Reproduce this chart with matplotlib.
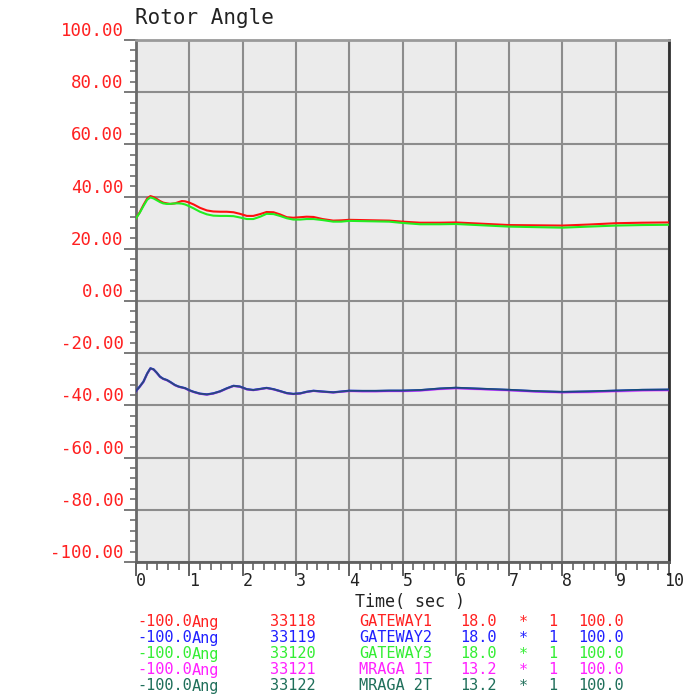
import matplotlib
matplotlib.use("Agg")
import matplotlib.pyplot as plt
from matplotlib.ticker import MultipleLocator, FuncFormatter
import matplotlib.transforms as mtransforms

# ---- data -------------------------------------------------------------
time_s = [0, 0.07, 0.14, 0.21, 0.27, 0.33, 0.39, 0.45, 0.51, 0.58, 0.64,
          0.73, 0.8, 0.86, 0.92, 1.0, 1.08, 1.2, 1.33, 1.45, 1.58, 1.7,
          1.83, 1.95, 2.08, 2.2, 2.33, 2.45, 2.58, 2.7, 2.83, 2.95, 3.08,
          3.2, 3.33, 3.5, 3.7, 3.85, 4.0, 4.25, 4.5, 4.75, 5.0, 5.33, 5.7,
          6.0, 6.5, 7.0, 7.5, 8.0, 8.5, 9.0, 9.5, 10.0]

gateway1 = [31.7, 34.0, 36.8, 39.3, 40.2, 39.8, 39.1, 38.3, 37.7, 37.4, 37.2,
            37.4, 37.9, 38.3, 38.2, 37.7, 37.0, 35.7, 34.7, 34.3, 34.2, 34.2,
            34.0, 33.4, 32.6, 32.6, 33.3, 34.1, 34.0, 33.2, 32.1, 31.9, 32.1,
            32.3, 32.2, 31.4, 30.8, 30.9, 31.1, 31.0, 30.9, 30.8, 30.4, 30.0, 30.0,
            30.1, 29.6, 29.1, 29.0, 28.9, 29.3, 29.8, 30.0, 30.1]

gateway3 = [31.7, 33.8, 36.4, 38.8, 39.7, 39.3, 38.6, 37.9, 37.4, 37.2, 37.2,
            37.4, 37.4, 37.3, 37.0, 36.3, 35.5, 34.2, 33.2, 32.7, 32.6, 32.6,
            32.5, 32.0, 31.4, 31.4, 32.3, 33.4, 33.3, 32.6, 31.7, 31.2, 31.2,
            31.4, 31.4, 31.0, 30.4, 30.4, 30.7, 30.6, 30.5, 30.4, 29.9, 29.4, 29.4,
            29.5, 29.0, 28.5, 28.3, 28.1, 28.5, 28.9, 29.1, 29.2]

gateway2 = [-34.5, -32.8, -30.9, -27.8, -25.8, -26.2, -27.5, -29.0, -29.8, -30.3, -31.0,
            -32.2, -32.8, -33.1, -33.4, -34.2, -34.8, -35.5, -35.8, -35.4, -34.6, -33.5,
            -32.5, -32.8, -33.8, -34.1, -33.7, -33.3, -33.8, -34.5, -35.3, -35.6, -35.4,
            -34.8, -34.4, -34.7, -35.0, -34.7, -34.4, -34.5, -34.5, -34.4, -34.4, -34.2, -33.6,
            -33.3, -33.7, -34.1, -34.6, -34.9, -34.7, -34.4, -34.1, -34.0]

mraga1t = [-34.6, -32.9, -31.0, -27.9, -25.9, -26.3, -27.6, -29.1, -29.9, -30.4, -31.1,
           -32.3, -32.9, -33.2, -33.5, -34.3, -34.9, -35.6, -35.9, -35.5, -34.7, -33.6,
           -32.6, -32.9, -33.9, -34.2, -33.8, -33.4, -33.9, -34.6, -35.4, -35.7, -35.5,
           -34.9, -34.5, -34.8, -35.1, -34.8, -34.6, -34.7, -34.7, -34.6, -34.6, -34.4, -33.8,
           -33.5, -33.9, -34.3, -34.8, -35.1, -35.0, -34.7, -34.4, -34.3]

mraga2t = [-34.5, -32.8, -30.9, -27.8, -25.8, -26.2, -27.5, -29.0, -29.8, -30.3, -31.0,
           -32.2, -32.8, -33.1, -33.4, -34.2, -34.8, -35.5, -35.8, -35.4, -34.6, -33.5,
           -32.5, -32.8, -33.8, -34.1, -33.7, -33.3, -33.8, -34.5, -35.3, -35.6, -35.4,
           -34.8, -34.4, -34.7, -35.0, -34.7, -34.4, -34.4, -34.4, -34.3, -34.3, -34.1, -33.5,
           -33.2, -33.6, -34.0, -34.5, -34.8, -34.6, -34.3, -34.0, -33.9]

bus_numbers = ["33118", "33119", "33120", "33121", "33122"]
bus_names = ["GATEWAY1", "GATEWAY2", "GATEWAY3", "MRAGA 1T", "MRAGA 2T"]
bus_kv = ["18.0", "18.0", "18.0", "13.2", "13.2"]
series_colors = ["#ff1010", "#1010ff", "#22ee22", "#ff10ff", "#0e6050"]
label_colors = ["#ff2020", "#2020ff", "#33ee33", "#ff20ff", "#1f6f5a"]

x_ticks = list(range(0, 11))
y_ticks = list(range(-100, 101, 20))

# ---- figure -----------------------------------------------------------
W, H = 686, 698
fig = plt.figure(figsize=(W / 100, H / 100), dpi=100)
mono = "DejaVu Sans Mono"

ax = fig.add_axes([136 / W, 136 / H, 533 / W, 522 / H])
ax.set_facecolor("#ebebeb")
ax.set_xlim(0, 10)
ax.set_ylim(-100, 100)

ax.xaxis.set_minor_locator(MultipleLocator(0.2))
ax.yaxis.set_minor_locator(MultipleLocator(4))
ax.set_xticks(x_ticks)
ax.set_yticks(y_ticks)

ax.grid(True, which="major", color="#8c8c8c", linewidth=1.5)
ax.set_axisbelow(True)

for side, col in [("top", "#9a9a9a"), ("left", "#6a6a6a"),
                  ("right", "#303030"), ("bottom", "#606060")]:
    ax.spines[side].set_color(col)
    ax.spines[side].set_linewidth(2)

ax.tick_params(axis="y", which="major", direction="out", length=9, width=1.3,
               color="#707070", pad=0, labelsize=12.5, labelcolor="#ff2020")
ax.tick_params(axis="y", which="minor", direction="out", length=4, width=1.2,
               color="#707070")
ax.tick_params(axis="x", which="major", direction="out", length=10, width=1.3,
               color="#555555", pad=-3, labelsize=12, labelcolor="#222222")
ax.tick_params(axis="x", which="minor", direction="out", length=6, width=1.1,
               color="#555555")

ax.yaxis.set_major_formatter(FuncFormatter(lambda v, p: f"{v:.2f}"))
for lab in ax.get_yticklabels():
    lab.set_fontfamily(mono)
    lab.set_verticalalignment("bottom")
shift = mtransforms.ScaledTranslation(5 / 100, 0, fig.dpi_scale_trans)
for lab in ax.get_xticklabels():
    lab.set_fontfamily(mono)
    lab.set_transform(lab.get_transform() + shift)

# axis caption under the time ticks
fig.text(410 / W, 1 - 602 / H, "Time( sec )", fontfamily=mono, fontsize=12,
         color="#222222", ha="center", va="center")

# ---- curves -----------------------------------------------------------
ax.plot(time_s, gateway1, color=series_colors[0], lw=1.5, zorder=3)
ax.plot(time_s, gateway3, color=series_colors[2], lw=1.5, zorder=4)
ax.plot(time_s, gateway2, color=series_colors[1], lw=1.6, zorder=3)
ax.plot(time_s, mraga1t, color=series_colors[3], lw=1.5, alpha=0.45, zorder=4)
ax.plot(time_s, mraga2t, color=series_colors[4], lw=1.3, alpha=0.75, zorder=5)

# ---- title ------------------------------------------------------------
fig.text(135 / W, 1 - 18 / H, "Rotor Angle", fontfamily=mono, fontsize=15,
         color="#222222", ha="left", va="center")

# ---- channel list -----------------------------------------------------
row_y = [622, 638, 654, 670, 686]
for i in range(5):
    y = 1 - row_y[i] / H
    kw = dict(fontfamily=mono, fontsize=11, color=label_colors[i], va="center")
    fig.text(137 / W, y, "-100.0", ha="left", **kw)
    fig.text(192 / W, y, "Ang", ha="left", **kw)
    fig.text(270 / W, y, bus_numbers[i], ha="left", **kw)
    fig.text(359 / W, y, bus_names[i], ha="left", **kw)
    fig.text(460 / W, y, bus_kv[i], ha="left", **kw)
    fig.text(523 / W, y, "*", ha="center", **kw)
    fig.text(553 / W, y, "1", ha="center", **kw)
    fig.text(578 / W, y, "100.0", ha="left", **kw)

fig.savefig("out.png", dpi=100)
